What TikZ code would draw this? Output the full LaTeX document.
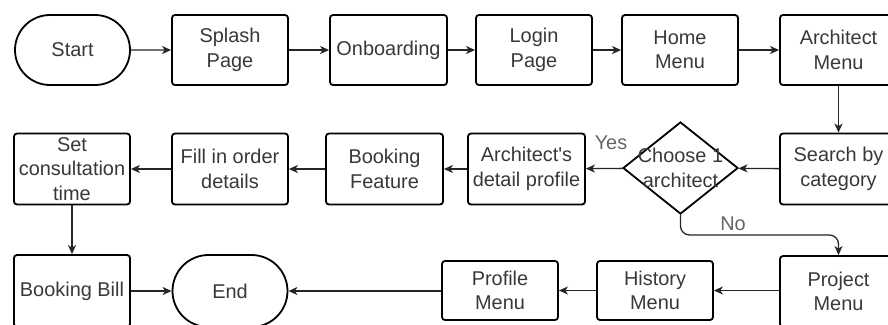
\documentclass[tikz,border=0pt]{standalone}
\usepackage{fontspec}
\setmainfont{Liberation Sans}
\usetikzlibrary{shapes.misc,shapes.geometric,arrows.meta}
\tikzset{
  base/.style={draw=black, line width=1.8bp, inner sep=0pt, align=center,
    text=black!78, font=\fontsize{20}{24.5}\selectfont},
  box/.style={base, rectangle, rounded corners=3bp, minimum width=116bp, minimum height=70bp},
  term/.style={base, rounded rectangle, minimum width=115bp, minimum height=70bp},
  decision/.style={base, diamond, minimum width=115bp, minimum height=92bp, aspect=1.25},
  conn/.style={draw=black!85, line width=1.3bp, -{Stealth[length=9bp,width=8bp,inset=2.5bp]}},
  lbl/.style={text=black!60, font=\fontsize{20}{24.5}\selectfont, inner sep=0pt}
}
\begin{document}
\begin{tikzpicture}[x=1bp,y=-1bp]
\useasboundingbox (0,0) rectangle (888,324);
\clip (0,0) rectangle (888,324);
% row 1
\node[term] (start) at (72.5,50) {Start};
\node[box] (splash) at (230,50) {Splash\\Page};
\node[box, minimum width=117bp] (onb) at (388.5,50) {Onboarding};
\node[box] (login) at (534,50) {Login\\Page};
\node[box] (home) at (680,50) {Home\\Menu};
\node[box, minimum width=117bp] (archm) at (838.5,50) {Architect\\Menu};
% row 2
\node[box, minimum height=71bp] (setc) at (72,169) {Set\\consultation\\time};
\node[box, minimum height=71bp] (fill) at (230,169) {Fill in order\\details};
\node[box, minimum width=117bp, minimum height=71bp] (bookf) at (384.5,169) {Booking\\Feature};
\node[box, minimum width=117bp, minimum height=71bp] (archd) at (526.5,169) {Architect\textquotesingle s\\detail profile};
\node[decision] (choose) at (680.5,168) {};
\node[base, draw=none] (choosetxt) at (680.5,168) {Choose 1\\architect};
\node[box, minimum width=117bp, minimum height=71bp] (search) at (838.5,169) {Search by\\category};
% row 3
\node[box, minimum height=72bp] (bill) at (72,291) {Booking Bill};
\node[term, minimum height=72bp] (endn) at (230,291) {End};
\node[box, minimum height=59bp] (profile) at (500,290.5) {Profile\\Menu};
\node[box, minimum height=59bp] (history) at (655,290.5) {History\\Menu};
\node[box, minimum width=117bp, minimum height=71bp] (project) at (838.5,291.5) {Project\\Menu};
% connectors
\draw[conn] (start) -- (splash);
\draw[conn] (splash) -- (onb);
\draw[conn] (onb) -- (login);
\draw[conn] (login) -- (home);
\draw[conn] (home) -- (archm);
\draw[conn] (archm) -- (search);
\draw[conn] (search) -- (choose);
\draw[conn] (choose) -- (archd);
\draw[conn] (archd) -- (bookf);
\draw[conn] (bookf) -- (fill);
\draw[conn] (fill) -- (setc);
\draw[conn] (setc) -- (bill);
\draw[conn] (bill) -- (endn);
\draw[conn, rounded corners=9bp] (choose.south) |- (760,235) -| (project.north);
\draw[conn] (project.west |- history.east) -- (history.east);
\draw[conn] (history) -- (profile);
\draw[conn] (profile.west |- endn.east) -- (endn.east);
% labels
\node[lbl] (yes) at (611,143) {Yes};
\node[lbl] (no) at (733,224) {No};
\end{tikzpicture}
\end{document}
